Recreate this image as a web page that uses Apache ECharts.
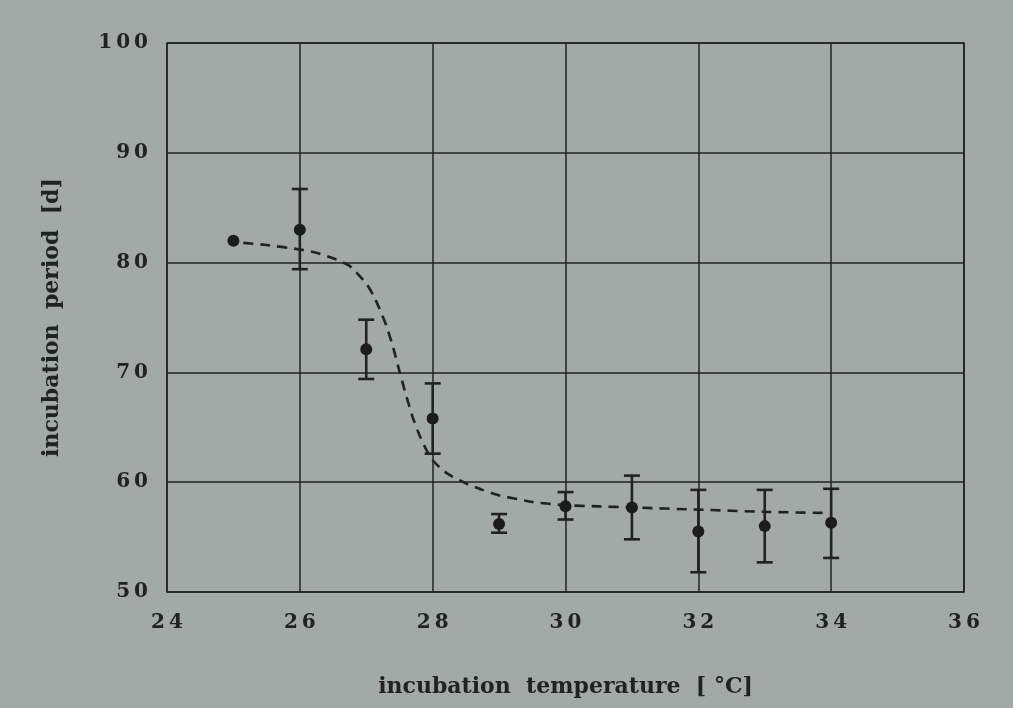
<!DOCTYPE html>
<html>
<head>
<meta charset="utf-8">
<script src="https://cdn.jsdelivr.net/npm/echarts@6/dist/echarts.min.js"></script>
<style>
  html, body { margin: 0; padding: 0; background: #a3a9a7; }
  #chart { width: 1013px; height: 708px; }
</style>
</head>
<body>
<div id="chart"></div>
<script>
// measured points: temperature, mean, upper and lower end of the bar
const temps = [25, 26, 27, 28, 29, 30, 31, 32, 33, 34];
const means = [82.0, 83.0, 72.1, 65.8, 56.2, 57.8, 57.7, 55.5, 56.0, 56.3];
const upper = [null, 86.7, 74.8, 69.0, 57.1, 59.1, 60.6, 59.3, 59.3, 59.4];
const lower = [null, 79.4, 69.4, 62.6, 55.4, 56.6, 54.8, 51.8, 52.7, 53.1];

// dashed fitted curve
const curveX = [25.15, 25.5, 26, 26.25, 26.5, 26.75, 27, 27.1, 27.2, 27.3, 27.4, 27.5, 27.6, 27.7, 27.8, 27.9, 28, 28.15, 28.3, 28.5, 28.75, 29, 29.5, 30, 30.5, 31, 32, 33, 33.9];
const curveY = [81.8, 81.6, 81.2, 80.9, 80.4, 79.7, 78.1, 77.1, 75.8, 74.3, 72.4, 70.1, 67.9, 65.9, 64.3, 63.0, 62.0, 61.1, 60.5, 59.9, 59.3, 58.8, 58.2, 57.9, 57.8, 57.7, 57.5, 57.3, 57.2];

const ink = '#222222';
const font = 'DejaVu Serif';
const spaced = v => String(v).split('').join('\u2009');

const chart = echarts.init(document.getElementById('chart'));
chart.setOption({
    backgroundColor: '#a3a9a7',
    animation: false,
    grid: {
        left: 167, top: 43, right: 49, bottom: 116,
        show: true, borderColor: ink, borderWidth: 1.5, backgroundColor: 'transparent'
    },
    xAxis: {
        type: 'value', min: 24, max: 36, interval: 2,
        name: 'incubation  temperature  [ °C]',
        nameLocation: 'middle', nameGap: 84,
        nameTextStyle: { color: ink, fontFamily: font, fontWeight: 'bold', fontSize: 22 },
        axisLine: { show: false },
        axisTick: { show: false },
        axisLabel: { color: ink, fontFamily: font, fontWeight: 'bold', fontSize: 20, margin: 21, formatter: spaced },
        splitLine: { show: true, lineStyle: { color: ink, width: 1.5 } }
    },
    yAxis: {
        type: 'value', min: 50, max: 100, interval: 10,
        name: 'incubation  period  [d]',
        nameLocation: 'middle', nameGap: 104,
        nameTextStyle: { color: ink, fontFamily: font, fontWeight: 'bold', fontSize: 22 },
        axisLine: { show: false },
        axisTick: { show: false },
        axisLabel: { color: ink, fontFamily: font, fontWeight: 'bold', fontSize: 20, margin: 19, formatter: spaced },
        splitLine: { show: true, lineStyle: { color: ink, width: 1.5 } }
    },
    series: [
        {
            type: 'line',
            data: curveX.map((x, i) => [x, curveY[i]]),
            smooth: 0.15,
            showSymbol: false,
            lineStyle: { color: ink, width: 2.6, type: [10, 7] },
            z: 2
        },
        {
            type: 'custom',
            data: temps.map((t, i) => [t, upper[i], lower[i]]).filter(d => d[1] != null),
            renderItem: (params, api) => {
                const top = api.coord([api.value(0), api.value(1)]);
                const bot = api.coord([api.value(0), api.value(2)]);
                const w = 8;
                const style = { stroke: ink, lineWidth: 2.6 };
                return {
                    type: 'group',
                    children: [
                        { type: 'line', shape: { x1: top[0], y1: top[1], x2: bot[0], y2: bot[1] }, style },
                        { type: 'line', shape: { x1: top[0] - w, y1: top[1], x2: top[0] + w, y2: top[1] }, style },
                        { type: 'line', shape: { x1: bot[0] - w, y1: bot[1], x2: bot[0] + w, y2: bot[1] }, style }
                    ]
                };
            },
            z: 3
        },
        {
            type: 'scatter',
            data: temps.map((t, i) => [t, means[i]]),
            symbol: 'circle',
            symbolSize: 12,
            itemStyle: { color: '#1c1c1c', opacity: 1 },
            z: 4
        }
    ]
});
</script>
</body>
</html>
